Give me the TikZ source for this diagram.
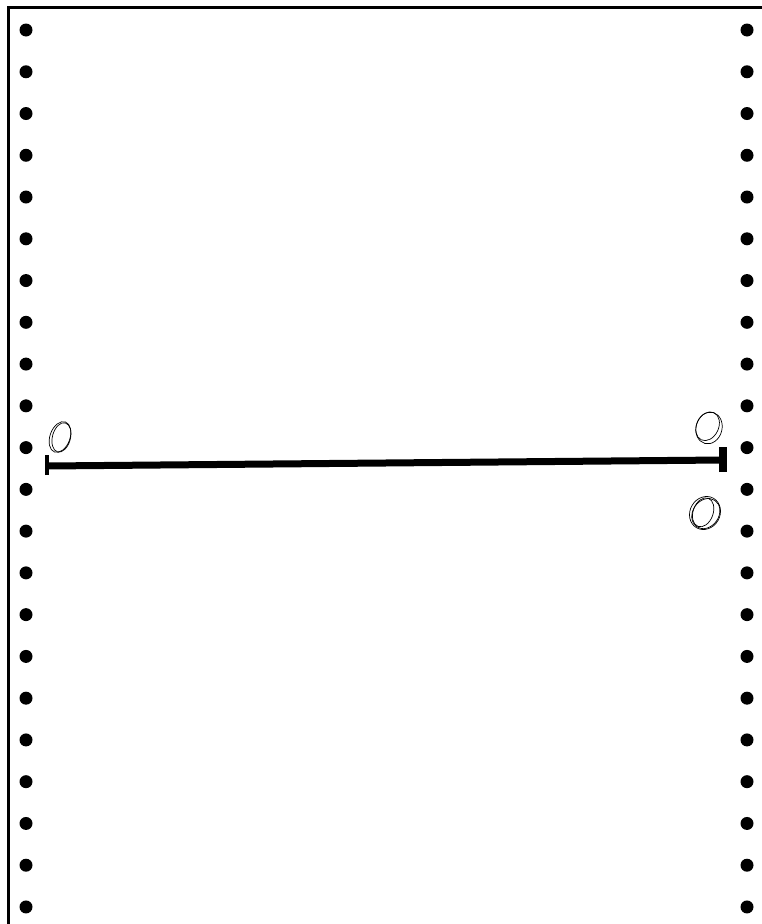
\documentclass[tikz,border=0pt]{standalone}
\begin{document}
\begin{tikzpicture}[x=1pt,y=-1pt]
  \tikzset{hole/.style={fill=black},
           scribble/.style={line width=0.7pt}}
  \useasboundingbox (0,0) rectangle (762,924);

  % the sheet edge
  \draw [line width=3pt] (8,924) -- (8,7) -- (762,7);

  % feed holes
  \foreach \i in {0,...,21}{
    \fill [hole] (26,30+41.76*\i) circle (6.5);
    \fill [hole] (747,30+41.76*\i) circle (6.5);
  }

  \coordinate (A) at (47,466);
  \coordinate (B) at (723,460);

  % the bar
  \draw [line width=7pt] (A) -- (B);
  \draw [line width=4pt] ([yshift=-9]A) -- ([yshift=11]A);
  \draw [line width=8pt] ([yshift=-12]B) -- ([yshift=13]B);

  % the little circles
  \coordinate (C) at (60,437);
  \coordinate (D) at (709,428);
  \coordinate (E) at (705,513);
  \draw [scribble,rotate around={-20:(C)}] (C) ellipse (10 and 16);
  \draw [scribble,rotate around={-15:([xshift=1.5]C)}] ([xshift=1.5]C) ellipse (9 and 15);
  \draw [scribble,rotate around={-15:(D)}] (D) ellipse (13 and 16);
  \draw [scribble,rotate around={-25:([xshift=-2,yshift=1]D)}] ([xshift=-2,yshift=1]D) ellipse (11 and 15);
  \draw [scribble,rotate around={-30:(E)}] (E) ellipse (15 and 17);
  \draw [scribble,rotate around={-20:([xshift=-2]E)}] ([xshift=-2]E) ellipse (10 and 15);
  \draw [scribble,rotate around={-35:([xshift=1]E)}] ([xshift=1]E) ellipse (13 and 16);
\end{tikzpicture}
\end{document}
